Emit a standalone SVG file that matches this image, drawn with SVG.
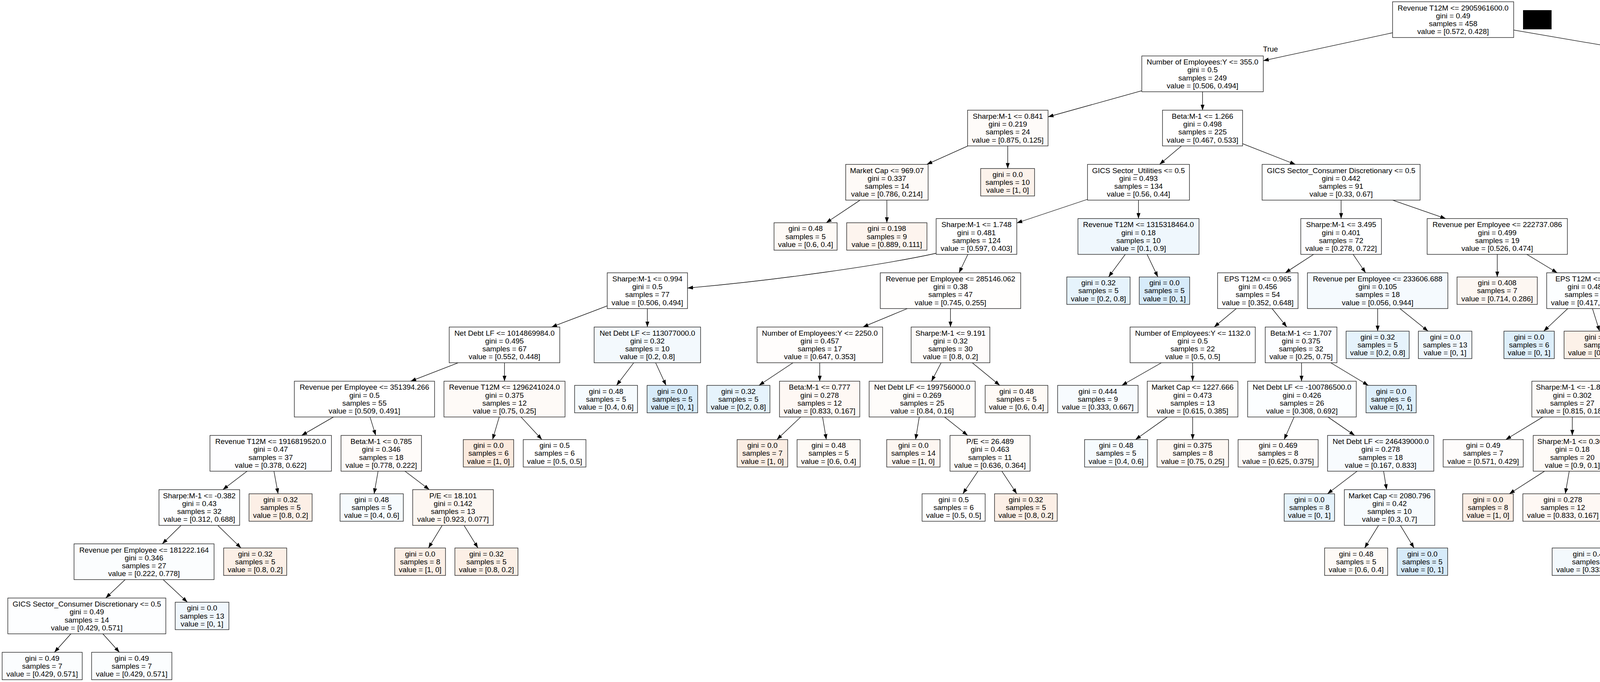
<svg xmlns="http://www.w3.org/2000/svg" width="6290" height="1745" viewBox="0 0 6290 1745">
<defs>
<marker id="ah" markerUnits="userSpaceOnUse" markerWidth="14" markerHeight="10" refX="14" refY="5" orient="auto"><path d="M0,0 L14,5 L0,10 z" fill="#000"/></marker>
<style>
.n rect{stroke:#222;stroke-width:1.4}
.n text,.lbl{font-family:"Liberation Sans",Arial,Helvetica,sans-serif;font-size:19px;fill:#000;text-anchor:middle}
.e path{fill:none;stroke:#000;stroke-width:1.3;marker-end:url(#ah)}
</style>
</defs>
<rect width="6290" height="1745" fill="#fff"/>
<g id="edges" class="e">
<path d="M3565 83.8 L3234 155.3"/>
<path d="M3875 76.8 L4426 171.3"/>
<path d="M2923 232.2 L2683 299"/>
<path d="M3078.5 234.7 L3078.5 281.9"/>
<path d="M4529 234.7 L4529 281.9"/>
<path d="M4632 211.5 L5060 305.2"/>
<path d="M2477.9 373.4 L2372.6 420.6"/>
<path d="M2579.75 373.4 L2579.75 431.25"/>
<path d="M3024.4 373.4 L2968.6 420.6"/>
<path d="M3181 367.7 L3316.2 420.6"/>
<path d="M2201.8 512.1 L2115 570"/>
<path d="M2270.4 512.1 L2270.4 570"/>
<path d="M2784 510 L2603 570.5"/>
<path d="M2914.5 512.1 L2914.5 559.3"/>
<path d="M3433.25 512.1 L3433.25 559.3"/>
<path d="M3565.1 512.1 L3701.1 559.3"/>
<path d="M2396.7 648 C2260 678 1990 717 1760 737"/>
<path d="M2477.8 650.8 L2455.2 698"/>
<path d="M2880.7 650.8 L2837.9 708.65"/>
<path d="M2936.4 650.8 L2964.2 708.65"/>
<path d="M3362.9 650.8 L3290.3 698"/>
<path d="M3464.1 650.8 L3495.9 698"/>
<path d="M3833 650.8 L3833 708.65"/>
<path d="M3908.6 650.8 L3986.6 698"/>
<path d="M4494.7 373.4 L4451.3 431.25"/>
<path d="M4563.4 373.4 L4598.9 420.6"/>
<path d="M5162.75 373.4 L5162.75 420.6"/>
<path d="M5265.5 360 L5462.5 421.9"/>
<path d="M4596.6 512.1 L4558.7 559.3"/>
<path d="M4672.3 512.1 L4721.6 570"/>
<path d="M4521.4 650.8 L4521.4 698"/>
<path d="M4617.2 650.8 L4715.5 698"/>
<path d="M5126.6 512.1 L5089.4 559.3"/>
<path d="M5207.1 512.1 L5263.2 570"/>
<path d="M5603.9 512.1 L5603.9 559.3"/>
<path d="M5734.8 512.1 L5870 559.3"/>
<path d="M5047.9 650.8 L5041.1 708.65"/>
<path d="M5109 650.8 L5179.5 708.65"/>
<path d="M5565.7 650.8 L5526.1 698"/>
<path d="M5660.8 650.8 L5732.7 708.65"/>
<path d="M6001 650.8 L6001 698"/>
<path d="M6068 650.8 L6152.6 708.65"/>
<path d="M1554.5 782.7 L1412.1 836.7"/>
<path d="M1657.25 789.5 L1657.25 836.7"/>
<path d="M2322.9 789.5 L2209.1 836.7"/>
<path d="M2433.25 789.5 L2433.25 836.7"/>
<path d="M3165 789.5 L3108.25 836.7"/>
<path d="M3256.5 789.5 L3294.2 836.7"/>
<path d="M3526.75 789.5 L3526.75 847.35"/>
<path d="M3583.7 789.5 L3655.8 847.35"/>
<path d="M4013.5 789.5 L3951.9 847.35"/>
<path d="M4076.7 789.5 L4094.9 847.35"/>
<path d="M4472.2 789.5 L4422.1 836.7"/>
<path d="M4547.8 789.5 L4575.7 836.7"/>
<path d="M4810.4 789.5 L4810.4 847.35"/>
<path d="M4879.4 789.5 L4966.1 847.35"/>
<path d="M5468 789.5 L5447.5 836.7"/>
<path d="M5532.5 789.5 L5589.15 847.35"/>
<path d="M5959.3 789.5 L5906.5 847.35"/>
<path d="M6020.5 789.5 L6045.1 847.35"/>
<path d="M1173.25 928.2 L1051.25 975.4"/>
<path d="M1291.5 928.2 L1291.5 975.4"/>
<path d="M1622.4 928.2 L1578.3 986.05"/>
<path d="M1678.4 928.2 L1705.05 986.05"/>
<path d="M2030 928.2 L1943 986.05"/>
<path d="M2098.5 928.2 L2098.5 975.4"/>
<path d="M2409.3 928.2 L2384.7 975.4"/>
<path d="M2489 928.2 L2559.5 986.05"/>
<path d="M2973.2 928.2 L2871.9 986.05"/>
<path d="M3053.1 928.2 L3053.1 975.4"/>
<path d="M3331.9 928.2 L3331.9 975.4"/>
<path d="M3406.8 928.2 L3502.9 986.05"/>
<path d="M4271 923.2 L4128.5 980"/>
<path d="M4373.5 928.2 L4373.5 975.4"/>
<path d="M4602.6 928.2 L4602.6 986.05"/>
<path d="M4705.5 922.8 L4839.3 975.4"/>
<path d="M5384.4 928.2 L5329.1 986.05"/>
<path d="M5470 928.2 L5513.5 975.4"/>
<path d="M853.8 1066.9 L772.2 1114.1"/>
<path d="M947.2 1066.9 L961.8 1114.1"/>
<path d="M1278 1066.9 L1260.9 1124.75"/>
<path d="M1333.8 1066.9 L1387.3 1124.75"/>
<path d="M2049.9 1066.9 L1988.8 1124.75"/>
<path d="M2105.8 1066.9 L2115.4 1124.75"/>
<path d="M2353.3 1066.9 L2343.9 1124.75"/>
<path d="M2418.1 1066.9 L2477.2 1114.1"/>
<path d="M2988.4 1066.9 L2906.8 1124.75"/>
<path d="M3053.25 1066.9 L3053.25 1124.75"/>
<path d="M3312.9 1066.9 L3287.4 1124.75"/>
<path d="M3399.5 1066.9 L3468 1114.1"/>
<path d="M3949.8 1066.9 L3854.7 1124.75"/>
<path d="M4025.1 1066.9 L4025.1 1114.1"/>
<path d="M4373.25 1066.9 L4373.25 1114.1"/>
<path d="M4476 1066.75 L4582.4 1114.1"/>
<path d="M4955.75 1066.9 L4955.75 1124.75"/>
<path d="M5024.4 1066.9 L5111.1 1124.75"/>
<path d="M5529 1066.9 L5501.5 1114.1"/>
<path d="M5601 1066.9 L5658.3 1124.75"/>
<path d="M632.7 1205.6 L570.5 1252.8"/>
<path d="M701.3 1205.6 L711.9 1263.45"/>
<path d="M967.9 1205.6 L957.7 1263.45"/>
<path d="M1036.6 1205.6 L1099.1 1252.8"/>
<path d="M2503.7 1205.6 L2464.85 1263.45"/>
<path d="M2564.8 1205.6 L2603 1263.45"/>
<path d="M3474.3 1205.6 L3398.2 1263.45"/>
<path d="M3542 1205.6 L3549.75 1252.8"/>
<path d="M3954 1205.6 L3863.9 1263.45"/>
<path d="M4017.25 1205.6 L4007.1 1263.45"/>
<path d="M4338.8 1205.6 L4303.5 1252.8"/>
<path d="M4427.2 1205.6 L4483.1 1252.8"/>
<path d="M4699.7 1205.6 L4717.9 1263.45"/>
<path d="M4755.5 1205.6 L4844.35 1263.45"/>
<path d="M5442.9 1205.6 L5402.7 1263.45"/>
<path d="M5506.3 1205.6 L5546.3 1263.45"/>
<path d="M463.6 1344.3 L415.4 1391.5"/>
<path d="M557.4 1344.3 L617.1 1402.15"/>
<path d="M1132 1344.3 L1096.8 1402.15"/>
<path d="M1188 1344.3 L1223.6 1402.15"/>
<path d="M3529.05 1344.3 L3493.4 1402.15"/>
<path d="M3585 1344.3 L3620 1402.15"/>
<path d="M4205.4 1344.3 L4124.7 1402.15"/>
<path d="M4274 1344.3 L4280.1 1402.15"/>
<path d="M4532.05 1344.3 L4526.7 1391.5"/>
<path d="M4633.1 1344.3 L4731.9 1391.5"/>
<path d="M320.4 1483 L270.6 1530.2"/>
<path d="M417.7 1483 L479.7 1540.85"/>
<path d="M4450.2 1483 L4376.6 1530.2"/>
<path d="M4530.65 1483 L4542.2 1540.85"/>
<path d="M4817.9 1483 L4807.8 1530.2"/>
<path d="M4893.8 1483 L4977.3 1540.85"/>
<path d="M181.5 1621.7 L139.3 1669"/>
<path d="M263.3 1621.7 L305.75 1669"/>
<path d="M4284.3 1621.7 L4262.6 1669"/>
<path d="M4366.2 1621.7 L4429.2 1669"/>
<path d="M4764.9 1621.7 L4730.65 1669"/>
<path d="M4830.9 1621.7 L4865 1669"/>
</g>
<text class="lbl" x="3252.5" y="132">True</text>
<text class="lbl" x="4405" y="156">False</text>
<rect x="3899" y="26" width="73" height="49" fill="#000"/>
<g id="n0" class="n"><rect x="3565" y="4.5" width="310" height="91.5" fill="#ffffff"/><text y="26.55"><tspan x="3720">Revenue T12M &lt;= 2905961600.0</tspan><tspan x="3720" dy="20.2">gini = 0.49</tspan><tspan x="3720" dy="20.2">samples = 458</tspan><tspan x="3720" dy="20.2">value = [0.572, 0.428]</tspan></text></g>
<g id="n1" class="n"><rect x="2923" y="143.2" width="311" height="91.5" fill="#ffffff"/><text y="165.25"><tspan x="3078.5">Number of Employees:Y &lt;= 355.0</tspan><tspan x="3078.5" dy="20.2">gini = 0.5</tspan><tspan x="3078.5" dy="20.2">samples = 249</tspan><tspan x="3078.5" dy="20.2">value = [0.506, 0.494]</tspan></text></g>
<g id="n2" class="n"><rect x="4426" y="143.2" width="206" height="91.5" fill="#ffffff"/><text y="165.25"><tspan x="4529">EPS T12M &lt;= 4.57</tspan><tspan x="4529" dy="20.2">gini = 0.455</tspan><tspan x="4529" dy="20.2">samples = 209</tspan><tspan x="4529" dy="20.2">value = [0.651, 0.349]</tspan></text></g>
<g id="n3" class="n"><rect x="2477" y="281.9" width="206" height="91.5" fill="#fefbf9"/><text y="303.95"><tspan x="2580">Sharpe:M-1 &lt;= 0.841</tspan><tspan x="2580" dy="20.2">gini = 0.219</tspan><tspan x="2580" dy="20.2">samples = 24</tspan><tspan x="2580" dy="20.2">value = [0.875, 0.125]</tspan></text></g>
<g id="n4" class="n"><rect x="2976" y="281.9" width="205" height="91.5" fill="#ffffff"/><text y="303.95"><tspan x="3078.5">Beta:M-1 &lt;= 1.266</tspan><tspan x="3078.5" dy="20.2">gini = 0.498</tspan><tspan x="3078.5" dy="20.2">samples = 225</tspan><tspan x="3078.5" dy="20.2">value = [0.467, 0.533]</tspan></text></g>
<g id="n16" class="n"><rect x="4426" y="281.9" width="206" height="91.5" fill="#ffffff"/><text y="303.95"><tspan x="4529">Sharpe:M-1 &lt;= -3.05</tspan><tspan x="4529" dy="20.2">gini = 0.479</tspan><tspan x="4529" dy="20.2">samples = 131</tspan><tspan x="4529" dy="20.2">value = [0.603, 0.397]</tspan></text></g>
<g id="n17" class="n"><rect x="5060" y="281.9" width="205.5" height="91.5" fill="#fffefe"/><text y="303.95"><tspan x="5162.75">Beta:M-1 &lt;= 0.594</tspan><tspan x="5162.75" dy="20.2">gini = 0.393</tspan><tspan x="5162.75" dy="20.2">samples = 78</tspan><tspan x="5162.75" dy="20.2">value = [0.731, 0.269]</tspan></text></g>
<g id="n5" class="n"><rect x="2165" y="420.6" width="211" height="91.5" fill="#fefaf7"/><text y="442.65"><tspan x="2270.5">Market Cap &lt;= 969.07</tspan><tspan x="2270.5" dy="20.2">gini = 0.337</tspan><tspan x="2270.5" dy="20.2">samples = 14</tspan><tspan x="2270.5" dy="20.2">value = [0.786, 0.214]</tspan></text></g>
<g id="n6" class="n"><rect x="2510.5" y="431.25" width="138" height="70.2" fill="#fcf2eb"/><text y="452.75"><tspan x="2579.5">gini = 0.0</tspan><tspan x="2579.5" dy="20.2">samples = 10</tspan><tspan x="2579.5" dy="20.2">value = [1, 0]</tspan></text></g>
<g id="n7" class="n"><rect x="2784" y="420.6" width="261" height="91.5" fill="#ffffff"/><text y="442.65"><tspan x="2914.5">GICS Sector_Utilities &lt;= 0.5</tspan><tspan x="2914.5" dy="20.2">gini = 0.493</tspan><tspan x="2914.5" dy="20.2">samples = 134</tspan><tspan x="2914.5" dy="20.2">value = [0.56, 0.44]</tspan></text></g>
<g id="n8" class="n"><rect x="3231" y="420.6" width="404.5" height="91.5" fill="#feffff"/><text y="442.65"><tspan x="3433.25">GICS Sector_Consumer Discretionary &lt;= 0.5</tspan><tspan x="3433.25" dy="20.2">gini = 0.442</tspan><tspan x="3433.25" dy="20.2">samples = 91</tspan><tspan x="3433.25" dy="20.2">value = [0.33, 0.67]</tspan></text></g>
<g id="n18" class="n"><rect x="4344.5" y="431.25" width="161" height="70.2" fill="#e6f3fc"/><text y="452.75"><tspan x="4425">gini = 0.32</tspan><tspan x="4425" dy="20.2">samples = 5</tspan><tspan x="4425" dy="20.2">value = [0.2, 0.8]</tspan></text></g>
<g id="n19" class="n"><rect x="4531" y="420.6" width="204.5" height="91.5" fill="#ffffff"/><text y="442.65"><tspan x="4633.25">P/E &lt;= 79.553</tspan><tspan x="4633.25" dy="20.2">gini = 0.472</tspan><tspan x="4633.25" dy="20.2">samples = 126</tspan><tspan x="4633.25" dy="20.2">value = [0.619, 0.381]</tspan></text></g>
<g id="n20" class="n"><rect x="4997" y="420.6" width="331.5" height="91.5" fill="#fffefe"/><text y="442.65"><tspan x="5162.75">Number of Employees:Y &lt;= 77993.5</tspan><tspan x="5162.75" dy="20.2">gini = 0.498</tspan><tspan x="5162.75" dy="20.2">samples = 15</tspan><tspan x="5162.75" dy="20.2">value = [0.533, 0.467]</tspan></text></g>
<g id="n21" class="n"><rect x="5462.5" y="420.6" width="282.5" height="91.5" fill="#fffefd"/><text y="442.65"><tspan x="5603.75">Net Debt LF &lt;= 6680000000.0</tspan><tspan x="5603.75" dy="20.2">gini = 0.346</tspan><tspan x="5603.75" dy="20.2">samples = 63</tspan><tspan x="5603.75" dy="20.2">value = [0.778, 0.222]</tspan></text></g>
<g id="n9" class="n"><rect x="1981.5" y="569.95" width="161.5" height="70.2" fill="#fefaf6"/><text y="591.45"><tspan x="2062.25">gini = 0.48</tspan><tspan x="2062.25" dy="20.2">samples = 5</tspan><tspan x="2062.25" dy="20.2">value = [0.6, 0.4]</tspan></text></g>
<g id="n10" class="n"><rect x="2167.5" y="569.95" width="205.5" height="70.2" fill="#fdf4ee"/><text y="591.45"><tspan x="2270.25">gini = 0.198</tspan><tspan x="2270.25" dy="20.2">samples = 9</tspan><tspan x="2270.25" dy="20.2">value = [0.889, 0.111]</tspan></text></g>
<g id="n11" class="n"><rect x="2396.5" y="559.3" width="206.5" height="91.5" fill="#ffffff"/><text y="581.35"><tspan x="2499.75">Sharpe:M-1 &lt;= 1.748</tspan><tspan x="2499.75" dy="20.2">gini = 0.481</tspan><tspan x="2499.75" dy="20.2">samples = 124</tspan><tspan x="2499.75" dy="20.2">value = [0.597, 0.403]</tspan></text></g>
<g id="n12" class="n"><rect x="2759.5" y="559.3" width="310" height="91.5" fill="#eff7fd"/><text y="581.35"><tspan x="2914.5">Revenue T12M &lt;= 1315318464.0</tspan><tspan x="2914.5" dy="20.2">gini = 0.18</tspan><tspan x="2914.5" dy="20.2">samples = 10</tspan><tspan x="2914.5" dy="20.2">value = [0.1, 0.9]</tspan></text></g>
<g id="n13" class="n"><rect x="3330" y="559.3" width="206.5" height="91.5" fill="#fefeff"/><text y="581.35"><tspan x="3433.25">Sharpe:M-1 &lt;= 3.495</tspan><tspan x="3433.25" dy="20.2">gini = 0.401</tspan><tspan x="3433.25" dy="20.2">samples = 72</tspan><tspan x="3433.25" dy="20.2">value = [0.278, 0.722]</tspan></text></g>
<g id="n14" class="n"><rect x="3653.5" y="559.3" width="359" height="91.5" fill="#fffffe"/><text y="581.35"><tspan x="3833">Revenue per Employee &lt;= 222737.086</tspan><tspan x="3833" dy="20.2">gini = 0.499</tspan><tspan x="3833" dy="20.2">samples = 19</tspan><tspan x="3833" dy="20.2">value = [0.526, 0.474]</tspan></text></g>
<g id="n15" class="n"><rect x="4419.5" y="559.3" width="205" height="91.5" fill="#ffffff"/><text y="581.35"><tspan x="4522">P/E &lt;= 35.978</tspan><tspan x="4522" dy="20.2">gini = 0.464</tspan><tspan x="4522" dy="20.2">samples = 120</tspan><tspan x="4522" dy="20.2">value = [0.633, 0.367]</tspan></text></g>
<g id="n22" class="n"><rect x="4648.5" y="569.95" width="206" height="70.2" fill="#f3f9fd"/><text y="591.45"><tspan x="4751.5">gini = 0.444</tspan><tspan x="4751.5" dy="20.2">samples = 6</tspan><tspan x="4751.5" dy="20.2">value = [0.333, 0.667]</tspan></text></g>
<g id="n23" class="n"><rect x="4898" y="559.3" width="310.5" height="91.5" fill="#f7fbfe"/><text y="581.35"><tspan x="5053.25">Revenue T12M &lt;= 9089720320.0</tspan><tspan x="5053.25" dy="20.2">gini = 0.42</tspan><tspan x="5053.25" dy="20.2">samples = 10</tspan><tspan x="5053.25" dy="20.2">value = [0.3, 0.7]</tspan></text></g>
<g id="n24" class="n"><rect x="5232.5" y="569.95" width="129.5" height="70.2" fill="#fae6d7"/><text y="591.45"><tspan x="5297.25">gini = 0.0</tspan><tspan x="5297.25" dy="20.2">samples = 5</tspan><tspan x="5297.25" dy="20.2">value = [1, 0]</tspan></text></g>
<g id="n25" class="n"><rect x="5419.5" y="559.3" width="369" height="91.5" fill="#fffdfc"/><text y="581.35"><tspan x="5604">Revenue per Employee &lt;= 1181116.625</tspan><tspan x="5604" dy="20.2">gini = 0.249</tspan><tspan x="5604" dy="20.2">samples = 48</tspan><tspan x="5604" dy="20.2">value = [0.854, 0.146]</tspan></text></g>
<g id="n26" class="n"><rect x="5830" y="559.3" width="342" height="91.5" fill="#fffefe"/><text y="581.35"><tspan x="6001">Number of Employees:Y &lt;= 126200.0</tspan><tspan x="6001" dy="20.2">gini = 0.498</tspan><tspan x="6001" dy="20.2">samples = 15</tspan><tspan x="6001" dy="20.2">value = [0.533, 0.467]</tspan></text></g>
<g id="n27" class="n"><rect x="1554.5" y="698" width="205.5" height="91.5" fill="#ffffff"/><text y="720.05"><tspan x="1657.25">Sharpe:M-1 &lt;= 0.994</tspan><tspan x="1657.25" dy="20.2">gini = 0.5</tspan><tspan x="1657.25" dy="20.2">samples = 77</tspan><tspan x="1657.25" dy="20.2">value = [0.506, 0.494]</tspan></text></g>
<g id="n28" class="n"><rect x="2253.5" y="698" width="359.5" height="91.5" fill="#fffefd"/><text y="720.05"><tspan x="2433.25">Revenue per Employee &lt;= 285146.062</tspan><tspan x="2433.25" dy="20.2">gini = 0.38</tspan><tspan x="2433.25" dy="20.2">samples = 47</tspan><tspan x="2433.25" dy="20.2">value = [0.745, 0.255]</tspan></text></g>
<g id="n29" class="n"><rect x="2731" y="708.65" width="162" height="70.2" fill="#e6f3fc"/><text y="730.15"><tspan x="2812">gini = 0.32</tspan><tspan x="2812" dy="20.2">samples = 5</tspan><tspan x="2812" dy="20.2">value = [0.2, 0.8]</tspan></text></g>
<g id="n30" class="n"><rect x="2916.5" y="708.65" width="129" height="70.2" fill="#d7ebfa"/><text y="730.15"><tspan x="2981">gini = 0.0</tspan><tspan x="2981" dy="20.2">samples = 5</tspan><tspan x="2981" dy="20.2">value = [0, 1]</tspan></text></g>
<g id="n31" class="n"><rect x="3117" y="698" width="206" height="91.5" fill="#fefeff"/><text y="720.05"><tspan x="3220">EPS T12M &lt;= 0.965</tspan><tspan x="3220" dy="20.2">gini = 0.456</tspan><tspan x="3220" dy="20.2">samples = 54</tspan><tspan x="3220" dy="20.2">value = [0.352, 0.648]</tspan></text></g>
<g id="n32" class="n"><rect x="3347" y="698" width="359.5" height="91.5" fill="#f5fafe"/><text y="720.05"><tspan x="3526.75">Revenue per Employee &lt;= 233606.688</tspan><tspan x="3526.75" dy="20.2">gini = 0.105</tspan><tspan x="3526.75" dy="20.2">samples = 18</tspan><tspan x="3526.75" dy="20.2">value = [0.056, 0.944]</tspan></text></g>
<g id="n33" class="n"><rect x="3730" y="708.65" width="205.5" height="70.2" fill="#fdf7f2"/><text y="730.15"><tspan x="3832.75">gini = 0.408</tspan><tspan x="3832.75" dy="20.2">samples = 7</tspan><tspan x="3832.75" dy="20.2">value = [0.714, 0.286]</tspan></text></g>
<g id="n34" class="n"><rect x="3959.5" y="698" width="205.5" height="91.5" fill="#fcfeff"/><text y="720.05"><tspan x="4062.25">EPS T12M &lt;= 2.34</tspan><tspan x="4062.25" dy="20.2">gini = 0.486</tspan><tspan x="4062.25" dy="20.2">samples = 12</tspan><tspan x="4062.25" dy="20.2">value = [0.417, 0.583]</tspan></text></g>
<g id="n35" class="n"><rect x="4377.5" y="698" width="286.5" height="91.5" fill="#ffffff"/><text y="720.05"><tspan x="4520.75">GICS Sector_Industrials &lt;= 0.5</tspan><tspan x="4520.75" dy="20.2">gini = 0.478</tspan><tspan x="4520.75" dy="20.2">samples = 106</tspan><tspan x="4520.75" dy="20.2">value = [0.604, 0.396]</tspan></text></g>
<g id="n36" class="n"><rect x="4689.5" y="698" width="242.5" height="91.5" fill="#fef9f5"/><text y="720.05"><tspan x="4810.75">Market Cap &lt;= 11013.503</tspan><tspan x="4810.75" dy="20.2">gini = 0.245</tspan><tspan x="4810.75" dy="20.2">samples = 14</tspan><tspan x="4810.75" dy="20.2">value = [0.857, 0.143]</tspan></text></g>
<g id="n37" class="n"><rect x="4956.5" y="708.65" width="161" height="70.2" fill="#e6f3fc"/><text y="730.15"><tspan x="5037">gini = 0.32</tspan><tspan x="5037" dy="20.2">samples = 5</tspan><tspan x="5037" dy="20.2">value = [0.2, 0.8]</tspan></text></g>
<g id="n38" class="n"><rect x="5141.5" y="708.65" width="161.5" height="70.2" fill="#f6fbfe"/><text y="730.15"><tspan x="5222.25">gini = 0.48</tspan><tspan x="5222.25" dy="20.2">samples = 5</tspan><tspan x="5222.25" dy="20.2">value = [0.4, 0.6]</tspan></text></g>
<g id="n39" class="n"><rect x="5327" y="698" width="321.5" height="91.5" fill="#fffdfb"/><text y="720.05"><tspan x="5487.75">Revenue T12M &lt;= 13158757376.0</tspan><tspan x="5487.75" dy="20.2">gini = 0.21</tspan><tspan x="5487.75" dy="20.2">samples = 42</tspan><tspan x="5487.75" dy="20.2">value = [0.881, 0.119]</tspan></text></g>
<g id="n40" class="n"><rect x="5673.5" y="708.65" width="205.5" height="70.2" fill="#fdf8f3"/><text y="730.15"><tspan x="5776.25">gini = 0.444</tspan><tspan x="5776.25" dy="20.2">samples = 6</tspan><tspan x="5776.25" dy="20.2">value = [0.667, 0.333]</tspan></text></g>
<g id="n41" class="n"><rect x="5899.5" y="698" width="203" height="91.5" fill="#fbfdfe"/><text y="720.05"><tspan x="6001">EPS T12M &lt;= 8.135</tspan><tspan x="6001" dy="20.2">gini = 0.48</tspan><tspan x="6001" dy="20.2">samples = 10</tspan><tspan x="6001" dy="20.2">value = [0.4, 0.6]</tspan></text></g>
<g id="n42" class="n"><rect x="6123.5" y="708.65" width="161" height="70.2" fill="#fcefe6"/><text y="730.15"><tspan x="6204">gini = 0.32</tspan><tspan x="6204" dy="20.2">samples = 5</tspan><tspan x="6204" dy="20.2">value = [0.8, 0.2]</tspan></text></g>
<g id="n43" class="n"><rect x="1150" y="836.7" width="283" height="91.5" fill="#ffffff"/><text y="858.75"><tspan x="1291.5">Net Debt LF &lt;= 1014869984.0</tspan><tspan x="1291.5" dy="20.2">gini = 0.495</tspan><tspan x="1291.5" dy="20.2">samples = 67</tspan><tspan x="1291.5" dy="20.2">value = [0.552, 0.448]</tspan></text></g>
<g id="n44" class="n"><rect x="1521" y="836.7" width="272.5" height="91.5" fill="#f3f9fd"/><text y="858.75"><tspan x="1657.25">Net Debt LF &lt;= 113077000.0</tspan><tspan x="1657.25" dy="20.2">gini = 0.32</tspan><tspan x="1657.25" dy="20.2">samples = 10</tspan><tspan x="1657.25" dy="20.2">value = [0.2, 0.8]</tspan></text></g>
<g id="n45" class="n"><rect x="1938" y="836.7" width="321.5" height="91.5" fill="#fffdfc"/><text y="858.75"><tspan x="2098.75">Number of Employees:Y &lt;= 2250.0</tspan><tspan x="2098.75" dy="20.2">gini = 0.457</tspan><tspan x="2098.75" dy="20.2">samples = 17</tspan><tspan x="2098.75" dy="20.2">value = [0.647, 0.353]</tspan></text></g>
<g id="n46" class="n"><rect x="2332.5" y="836.7" width="201.5" height="91.5" fill="#fefcfb"/><text y="858.75"><tspan x="2433.25">Sharpe:M-1 &lt;= 9.191</tspan><tspan x="2433.25" dy="20.2">gini = 0.32</tspan><tspan x="2433.25" dy="20.2">samples = 30</tspan><tspan x="2433.25" dy="20.2">value = [0.8, 0.2]</tspan></text></g>
<g id="n47" class="n"><rect x="2893" y="836.7" width="320.5" height="91.5" fill="#ffffff"/><text y="858.75"><tspan x="3053.25">Number of Employees:Y &lt;= 1132.0</tspan><tspan x="3053.25" dy="20.2">gini = 0.5</tspan><tspan x="3053.25" dy="20.2">samples = 22</tspan><tspan x="3053.25" dy="20.2">value = [0.5, 0.5]</tspan></text></g>
<g id="n48" class="n"><rect x="3239" y="836.7" width="183.5" height="91.5" fill="#fcfdff"/><text y="858.75"><tspan x="3330.75">Beta:M-1 &lt;= 1.707</tspan><tspan x="3330.75" dy="20.2">gini = 0.375</tspan><tspan x="3330.75" dy="20.2">samples = 32</tspan><tspan x="3330.75" dy="20.2">value = [0.25, 0.75]</tspan></text></g>
<g id="n49" class="n"><rect x="3446" y="847.35" width="161.5" height="70.2" fill="#e6f3fc"/><text y="868.85"><tspan x="3526.75">gini = 0.32</tspan><tspan x="3526.75" dy="20.2">samples = 5</tspan><tspan x="3526.75" dy="20.2">value = [0.2, 0.8]</tspan></text></g>
<g id="n50" class="n"><rect x="3631" y="847.35" width="137" height="70.2" fill="#f0f7fd"/><text y="868.85"><tspan x="3699.5">gini = 0.0</tspan><tspan x="3699.5" dy="20.2">samples = 13</tspan><tspan x="3699.5" dy="20.2">value = [0, 1]</tspan></text></g>
<g id="n51" class="n"><rect x="3850" y="847.35" width="129" height="70.2" fill="#deeffb"/><text y="868.85"><tspan x="3914.5">gini = 0.0</tspan><tspan x="3914.5" dy="20.2">samples = 6</tspan><tspan x="3914.5" dy="20.2">value = [0, 1]</tspan></text></g>
<g id="n52" class="n"><rect x="4004" y="847.35" width="204" height="70.2" fill="#fcf1e8"/><text y="868.85"><tspan x="4106">gini = 0.278</tspan><tspan x="4106" dy="20.2">samples = 6</tspan><tspan x="4106" dy="20.2">value = [0.833, 0.167]</tspan></text></g>
<g id="n53" class="n"><rect x="4271" y="836.7" width="205" height="91.5" fill="#fffffe"/><text y="858.75"><tspan x="4373.5">Beta:M-1 &lt;= 0.816</tspan><tspan x="4373.5" dy="20.2">gini = 0.457</tspan><tspan x="4373.5" dy="20.2">samples = 85</tspan><tspan x="4373.5" dy="20.2">value = [0.647, 0.353]</tspan></text></g>
<g id="n54" class="n"><rect x="4500" y="836.7" width="205.5" height="91.5" fill="#fefeff"/><text y="858.75"><tspan x="4602.75">Sharpe:M-1 &lt;= 0.214</tspan><tspan x="4602.75" dy="20.2">gini = 0.49</tspan><tspan x="4602.75" dy="20.2">samples = 21</tspan><tspan x="4602.75" dy="20.2">value = [0.429, 0.571]</tspan></text></g>
<g id="n55" class="n"><rect x="4729.5" y="847.35" width="161" height="70.2" fill="#fcefe6"/><text y="868.85"><tspan x="4810">gini = 0.32</tspan><tspan x="4810" dy="20.2">samples = 5</tspan><tspan x="4810" dy="20.2">value = [0.8, 0.2]</tspan></text></g>
<g id="n56" class="n"><rect x="4916" y="847.35" width="205.5" height="70.2" fill="#fdf4ee"/><text y="868.85"><tspan x="5018.75">gini = 0.198</tspan><tspan x="5018.75" dy="20.2">samples = 9</tspan><tspan x="5018.75" dy="20.2">value = [0.889, 0.111]</tspan></text></g>
<g id="n57" class="n"><rect x="5325" y="836.7" width="205.5" height="91.5" fill="#fefcfb"/><text y="858.75"><tspan x="5427.75">P/E &lt;= 10.418</tspan><tspan x="5427.75" dy="20.2">gini = 0.271</tspan><tspan x="5427.75" dy="20.2">samples = 31</tspan><tspan x="5427.75" dy="20.2">value = [0.839, 0.161]</tspan></text></g>
<g id="n58" class="n"><rect x="5554.5" y="847.35" width="138" height="70.2" fill="#fdf4ed"/><text y="868.85"><tspan x="5623.5">gini = 0.0</tspan><tspan x="5623.5" dy="20.2">samples = 11</tspan><tspan x="5623.5" dy="20.2">value = [1, 0]</tspan></text></g>
<g id="n59" class="n"><rect x="5794" y="847.35" width="161" height="70.2" fill="#fefaf6"/><text y="868.85"><tspan x="5874.5">gini = 0.48</tspan><tspan x="5874.5" dy="20.2">samples = 5</tspan><tspan x="5874.5" dy="20.2">value = [0.6, 0.4]</tspan></text></g>
<g id="n60" class="n"><rect x="5979.5" y="847.35" width="161" height="70.2" fill="#e6f3fc"/><text y="868.85"><tspan x="6060">gini = 0.32</tspan><tspan x="6060" dy="20.2">samples = 5</tspan><tspan x="6060" dy="20.2">value = [0.2, 0.8]</tspan></text></g>
<g id="n61" class="n"><rect x="753.5" y="975.4" width="359" height="91.5" fill="#ffffff"/><text y="997.45"><tspan x="933">Revenue per Employee &lt;= 351394.266</tspan><tspan x="933" dy="20.2">gini = 0.5</tspan><tspan x="933" dy="20.2">samples = 55</tspan><tspan x="933" dy="20.2">value = [0.509, 0.491]</tspan></text></g>
<g id="n62" class="n"><rect x="1136.5" y="975.4" width="310" height="91.5" fill="#fefaf7"/><text y="997.45"><tspan x="1291.5">Revenue T12M &lt;= 1296241024.0</tspan><tspan x="1291.5" dy="20.2">gini = 0.375</tspan><tspan x="1291.5" dy="20.2">samples = 12</tspan><tspan x="1291.5" dy="20.2">value = [0.75, 0.25]</tspan></text></g>
<g id="n63" class="n"><rect x="1471" y="986.05" width="161" height="70.2" fill="#f6fbfe"/><text y="1007.55"><tspan x="1551.5">gini = 0.48</tspan><tspan x="1551.5" dy="20.2">samples = 5</tspan><tspan x="1551.5" dy="20.2">value = [0.4, 0.6]</tspan></text></g>
<g id="n64" class="n"><rect x="1656.5" y="986.05" width="129.5" height="70.2" fill="#d7ebfa"/><text y="1007.55"><tspan x="1721.25">gini = 0.0</tspan><tspan x="1721.25" dy="20.2">samples = 5</tspan><tspan x="1721.25" dy="20.2">value = [0, 1]</tspan></text></g>
<g id="n65" class="n"><rect x="1809.5" y="986.05" width="161.5" height="70.2" fill="#e6f3fc"/><text y="1007.55"><tspan x="1890.25">gini = 0.32</tspan><tspan x="1890.25" dy="20.2">samples = 5</tspan><tspan x="1890.25" dy="20.2">value = [0.2, 0.8]</tspan></text></g>
<g id="n66" class="n"><rect x="1995.5" y="975.4" width="205.5" height="91.5" fill="#fef8f4"/><text y="997.45"><tspan x="2098.25">Beta:M-1 &lt;= 0.777</tspan><tspan x="2098.25" dy="20.2">gini = 0.278</tspan><tspan x="2098.25" dy="20.2">samples = 12</tspan><tspan x="2098.25" dy="20.2">value = [0.833, 0.167]</tspan></text></g>
<g id="n67" class="n"><rect x="2225" y="975.4" width="271.5" height="91.5" fill="#fefcfa"/><text y="997.45"><tspan x="2360.75">Net Debt LF &lt;= 199756000.0</tspan><tspan x="2360.75" dy="20.2">gini = 0.269</tspan><tspan x="2360.75" dy="20.2">samples = 25</tspan><tspan x="2360.75" dy="20.2">value = [0.84, 0.16]</tspan></text></g>
<g id="n68" class="n"><rect x="2522" y="986.05" width="160.5" height="70.2" fill="#fefaf6"/><text y="1007.55"><tspan x="2602.25">gini = 0.48</tspan><tspan x="2602.25" dy="20.2">samples = 5</tspan><tspan x="2602.25" dy="20.2">value = [0.6, 0.4]</tspan></text></g>
<g id="n69" class="n"><rect x="2707.5" y="986.05" width="206" height="70.2" fill="#f7fbfe"/><text y="1007.55"><tspan x="2810.5">gini = 0.444</tspan><tspan x="2810.5" dy="20.2">samples = 9</tspan><tspan x="2810.5" dy="20.2">value = [0.333, 0.667]</tspan></text></g>
<g id="n70" class="n"><rect x="2937" y="975.4" width="232" height="91.5" fill="#fffdfb"/><text y="997.45"><tspan x="3053">Market Cap &lt;= 1227.666</tspan><tspan x="3053" dy="20.2">gini = 0.473</tspan><tspan x="3053" dy="20.2">samples = 13</tspan><tspan x="3053" dy="20.2">value = [0.615, 0.385]</tspan></text></g>
<g id="n71" class="n"><rect x="3194" y="975.4" width="278" height="91.5" fill="#fcfeff"/><text y="997.45"><tspan x="3333">Net Debt LF &lt;= -100786500.0</tspan><tspan x="3333" dy="20.2">gini = 0.426</tspan><tspan x="3333" dy="20.2">samples = 26</tspan><tspan x="3333" dy="20.2">value = [0.308, 0.692]</tspan></text></g>
<g id="n72" class="n"><rect x="3497" y="986.05" width="128.5" height="70.2" fill="#deeffb"/><text y="1007.55"><tspan x="3561.25">gini = 0.0</tspan><tspan x="3561.25" dy="20.2">samples = 6</tspan><tspan x="3561.25" dy="20.2">value = [0, 1]</tspan></text></g>
<g id="n73" class="n"><rect x="3921.5" y="975.4" width="207" height="91.5" fill="#fefcfa"/><text y="997.45"><tspan x="4025">Sharpe:M-1 &lt;= -1.867</tspan><tspan x="4025" dy="20.2">gini = 0.302</tspan><tspan x="4025" dy="20.2">samples = 27</tspan><tspan x="4025" dy="20.2">value = [0.815, 0.185]</tspan></text></g>
<g id="n74" class="n"><rect x="4271" y="975.4" width="205" height="91.5" fill="#ffffff"/><text y="997.45"><tspan x="4373.5">EPS T12M &lt;= 3.385</tspan><tspan x="4373.5" dy="20.2">gini = 0.49</tspan><tspan x="4373.5" dy="20.2">samples = 58</tspan><tspan x="4373.5" dy="20.2">value = [0.569, 0.431]</tspan></text></g>
<g id="n75" class="n"><rect x="4500" y="986.05" width="205" height="70.2" fill="#eaf5fc"/><text y="1007.55"><tspan x="4602.5">gini = 0.245</tspan><tspan x="4602.5" dy="20.2">samples = 7</tspan><tspan x="4602.5" dy="20.2">value = [0.143, 0.857]</tspan></text></g>
<g id="n76" class="n"><rect x="4776.5" y="975.4" width="358.5" height="91.5" fill="#fffefd"/><text y="997.45"><tspan x="4955.75">Revenue per Employee &lt;= 237926.391</tspan><tspan x="4955.75" dy="20.2">gini = 0.49</tspan><tspan x="4955.75" dy="20.2">samples = 14</tspan><tspan x="4955.75" dy="20.2">value = [0.571, 0.429]</tspan></text></g>
<g id="n77" class="n"><rect x="5216" y="986.05" width="160.5" height="70.2" fill="#fefaf6"/><text y="1007.55"><tspan x="5296.25">gini = 0.48</tspan><tspan x="5296.25" dy="20.2">samples = 5</tspan><tspan x="5296.25" dy="20.2">value = [0.6, 0.4]</tspan></text></g>
<g id="n78" class="n"><rect x="5400.5" y="975.4" width="310.5" height="91.5" fill="#fefbf9"/><text y="997.45"><tspan x="5555.75">Revenue T12M &lt;= 5825765888.0</tspan><tspan x="5555.75" dy="20.2">gini = 0.204</tspan><tspan x="5555.75" dy="20.2">samples = 26</tspan><tspan x="5555.75" dy="20.2">value = [0.885, 0.115]</tspan></text></g>
<g id="n79" class="n"><rect x="537.5" y="1114.1" width="311" height="91.5" fill="#fefeff"/><text y="1136.15"><tspan x="693">Revenue T12M &lt;= 1916819520.0</tspan><tspan x="693" dy="20.2">gini = 0.47</tspan><tspan x="693" dy="20.2">samples = 37</tspan><tspan x="693" dy="20.2">value = [0.378, 0.622]</tspan></text></g>
<g id="n80" class="n"><rect x="873" y="1114.1" width="206" height="91.5" fill="#fefbf9"/><text y="1136.15"><tspan x="976">Beta:M-1 &lt;= 0.785</tspan><tspan x="976" dy="20.2">gini = 0.346</tspan><tspan x="976" dy="20.2">samples = 18</tspan><tspan x="976" dy="20.2">value = [0.778, 0.222]</tspan></text></g>
<g id="n81" class="n"><rect x="1186" y="1124.75" width="129" height="70.2" fill="#fbeade"/><text y="1146.25"><tspan x="1250.5">gini = 0.0</tspan><tspan x="1250.5" dy="20.2">samples = 6</tspan><tspan x="1250.5" dy="20.2">value = [1, 0]</tspan></text></g>
<g id="n82" class="n"><rect x="1339.5" y="1124.75" width="160.5" height="70.2" fill="#ffffff"/><text y="1146.25"><tspan x="1419.75">gini = 0.5</tspan><tspan x="1419.75" dy="20.2">samples = 6</tspan><tspan x="1419.75" dy="20.2">value = [0.5, 0.5]</tspan></text></g>
<g id="n83" class="n"><rect x="1887" y="1124.75" width="129.5" height="70.2" fill="#fbede3"/><text y="1146.25"><tspan x="1951.75">gini = 0.0</tspan><tspan x="1951.75" dy="20.2">samples = 7</tspan><tspan x="1951.75" dy="20.2">value = [1, 0]</tspan></text></g>
<g id="n84" class="n"><rect x="2040.5" y="1124.75" width="161.5" height="70.2" fill="#fefaf6"/><text y="1146.25"><tspan x="2121.25">gini = 0.48</tspan><tspan x="2121.25" dy="20.2">samples = 5</tspan><tspan x="2121.25" dy="20.2">value = [0.6, 0.4]</tspan></text></g>
<g id="n85" class="n"><rect x="2270" y="1124.75" width="136.5" height="70.2" fill="#fdf6f1"/><text y="1146.25"><tspan x="2338.25">gini = 0.0</tspan><tspan x="2338.25" dy="20.2">samples = 14</tspan><tspan x="2338.25" dy="20.2">value = [1, 0]</tspan></text></g>
<g id="n86" class="n"><rect x="2432" y="1114.1" width="205" height="91.5" fill="#fefcfa"/><text y="1136.15"><tspan x="2534.5">P/E &lt;= 26.489</tspan><tspan x="2534.5" dy="20.2">gini = 0.463</tspan><tspan x="2534.5" dy="20.2">samples = 11</tspan><tspan x="2534.5" dy="20.2">value = [0.636, 0.364]</tspan></text></g>
<g id="n87" class="n"><rect x="2776.5" y="1124.75" width="161.5" height="70.2" fill="#f6fbfe"/><text y="1146.25"><tspan x="2857.25">gini = 0.48</tspan><tspan x="2857.25" dy="20.2">samples = 5</tspan><tspan x="2857.25" dy="20.2">value = [0.4, 0.6]</tspan></text></g>
<g id="n88" class="n"><rect x="2962" y="1124.75" width="183" height="70.2" fill="#fdf7f2"/><text y="1146.25"><tspan x="3053.5">gini = 0.375</tspan><tspan x="3053.5" dy="20.2">samples = 8</tspan><tspan x="3053.5" dy="20.2">value = [0.75, 0.25]</tspan></text></g>
<g id="n89" class="n"><rect x="3169.5" y="1124.75" width="205" height="70.2" fill="#fefbf9"/><text y="1146.25"><tspan x="3272">gini = 0.469</tspan><tspan x="3272" dy="20.2">samples = 8</tspan><tspan x="3272" dy="20.2">value = [0.625, 0.375]</tspan></text></g>
<g id="n90" class="n"><rect x="3398.5" y="1114.1" width="272" height="91.5" fill="#f8fbfe"/><text y="1136.15"><tspan x="3534.5">Net Debt LF &lt;= 246439000.0</tspan><tspan x="3534.5" dy="20.2">gini = 0.278</tspan><tspan x="3534.5" dy="20.2">samples = 18</tspan><tspan x="3534.5" dy="20.2">value = [0.167, 0.833]</tspan></text></g>
<g id="n91" class="n"><rect x="3694.5" y="1124.75" width="205" height="70.2" fill="#fefcfb"/><text y="1146.25"><tspan x="3797">gini = 0.49</tspan><tspan x="3797" dy="20.2">samples = 7</tspan><tspan x="3797" dy="20.2">value = [0.571, 0.429]</tspan></text></g>
<g id="n92" class="n"><rect x="3925" y="1114.1" width="200.5" height="91.5" fill="#fefaf7"/><text y="1136.15"><tspan x="4025.25">Sharpe:M-1 &lt;= 0.305</tspan><tspan x="4025.25" dy="20.2">gini = 0.18</tspan><tspan x="4025.25" dy="20.2">samples = 20</tspan><tspan x="4025.25" dy="20.2">value = [0.9, 0.1]</tspan></text></g>
<g id="n93" class="n"><rect x="4269.5" y="1114.1" width="207" height="91.5" fill="#fffefe"/><text y="1136.15"><tspan x="4373">Sharpe:M-1 &lt;= -1.557</tspan><tspan x="4373" dy="20.2">gini = 0.462</tspan><tspan x="4373" dy="20.2">samples = 47</tspan><tspan x="4373" dy="20.2">value = [0.638, 0.362]</tspan></text></g>
<g id="n94" class="n"><rect x="4519.5" y="1114.1" width="331.5" height="91.5" fill="#f7fbfe"/><text y="1136.15"><tspan x="4685.25">Number of Employees:Y &lt;= 23850.0</tspan><tspan x="4685.25" dy="20.2">gini = 0.397</tspan><tspan x="4685.25" dy="20.2">samples = 11</tspan><tspan x="4685.25" dy="20.2">value = [0.273, 0.727]</tspan></text></g>
<g id="n95" class="n"><rect x="4875" y="1124.75" width="161.5" height="70.2" fill="#f6fbfe"/><text y="1146.25"><tspan x="4955.75">gini = 0.48</tspan><tspan x="4955.75" dy="20.2">samples = 5</tspan><tspan x="4955.75" dy="20.2">value = [0.4, 0.6]</tspan></text></g>
<g id="n96" class="n"><rect x="5060.5" y="1124.75" width="206.5" height="70.2" fill="#fefaf7"/><text y="1146.25"><tspan x="5163.75">gini = 0.444</tspan><tspan x="5163.75" dy="20.2">samples = 9</tspan><tspan x="5163.75" dy="20.2">value = [0.667, 0.333]</tspan></text></g>
<g id="n97" class="n"><rect x="5372" y="1114.1" width="205.5" height="91.5" fill="#fef9f5"/><text y="1136.15"><tspan x="5474.75">EPS T12M &lt;= 6.72</tspan><tspan x="5474.75" dy="20.2">gini = 0.105</tspan><tspan x="5474.75" dy="20.2">samples = 18</tspan><tspan x="5474.75" dy="20.2">value = [0.944, 0.056]</tspan></text></g>
<g id="n98" class="n"><rect x="5601.5" y="1124.75" width="183" height="70.2" fill="#fdf7f2"/><text y="1146.25"><tspan x="5693">gini = 0.375</tspan><tspan x="5693" dy="20.2">samples = 8</tspan><tspan x="5693" dy="20.2">value = [0.75, 0.25]</tspan></text></g>
<g id="n99" class="n"><rect x="407" y="1252.8" width="206.5" height="91.5" fill="#fdfeff"/><text y="1274.85"><tspan x="510.25">Sharpe:M-1 &lt;= -0.382</tspan><tspan x="510.25" dy="20.2">gini = 0.43</tspan><tspan x="510.25" dy="20.2">samples = 32</tspan><tspan x="510.25" dy="20.2">value = [0.312, 0.688]</tspan></text></g>
<g id="n100" class="n"><rect x="637.5" y="1263.45" width="161.5" height="70.2" fill="#fcefe6"/><text y="1284.95"><tspan x="718.25">gini = 0.32</tspan><tspan x="718.25" dy="20.2">samples = 5</tspan><tspan x="718.25" dy="20.2">value = [0.8, 0.2]</tspan></text></g>
<g id="n101" class="n"><rect x="870.5" y="1263.45" width="162" height="70.2" fill="#f6fbfe"/><text y="1284.95"><tspan x="951.5">gini = 0.48</tspan><tspan x="951.5" dy="20.2">samples = 5</tspan><tspan x="951.5" dy="20.2">value = [0.4, 0.6]</tspan></text></g>
<g id="n102" class="n"><rect x="1056.5" y="1252.8" width="206.5" height="91.5" fill="#fdf7f2"/><text y="1274.85"><tspan x="1159.75">P/E &lt;= 18.101</tspan><tspan x="1159.75" dy="20.2">gini = 0.142</tspan><tspan x="1159.75" dy="20.2">samples = 13</tspan><tspan x="1159.75" dy="20.2">value = [0.923, 0.077]</tspan></text></g>
<g id="n103" class="n"><rect x="2360.5" y="1263.45" width="161.5" height="70.2" fill="#ffffff"/><text y="1284.95"><tspan x="2441.25">gini = 0.5</tspan><tspan x="2441.25" dy="20.2">samples = 6</tspan><tspan x="2441.25" dy="20.2">value = [0.5, 0.5]</tspan></text></g>
<g id="n104" class="n"><rect x="2546" y="1263.45" width="160.5" height="70.2" fill="#fcefe6"/><text y="1284.95"><tspan x="2626.25">gini = 0.32</tspan><tspan x="2626.25" dy="20.2">samples = 5</tspan><tspan x="2626.25" dy="20.2">value = [0.8, 0.2]</tspan></text></g>
<g id="n105" class="n"><rect x="3287.5" y="1263.45" width="129" height="70.2" fill="#e6f3fc"/><text y="1284.95"><tspan x="3352">gini = 0.0</tspan><tspan x="3352" dy="20.2">samples = 8</tspan><tspan x="3352" dy="20.2">value = [0, 1]</tspan></text></g>
<g id="n106" class="n"><rect x="3441.5" y="1252.8" width="231.5" height="91.5" fill="#f7fbfe"/><text y="1274.85"><tspan x="3557.25">Market Cap &lt;= 2080.796</tspan><tspan x="3557.25" dy="20.2">gini = 0.42</tspan><tspan x="3557.25" dy="20.2">samples = 10</tspan><tspan x="3557.25" dy="20.2">value = [0.3, 0.7]</tspan></text></g>
<g id="n107" class="n"><rect x="3744.5" y="1263.45" width="129.5" height="70.2" fill="#fcefe6"/><text y="1284.95"><tspan x="3809.25">gini = 0.0</tspan><tspan x="3809.25" dy="20.2">samples = 8</tspan><tspan x="3809.25" dy="20.2">value = [1, 0]</tspan></text></g>
<g id="n108" class="n"><rect x="3898.5" y="1263.45" width="205" height="70.2" fill="#fef8f4"/><text y="1284.95"><tspan x="4001">gini = 0.278</tspan><tspan x="4001" dy="20.2">samples = 12</tspan><tspan x="4001" dy="20.2">value = [0.833, 0.167]</tspan></text></g>
<g id="n109" class="n"><rect x="4127.5" y="1252.8" width="283.5" height="91.5" fill="#fdfeff"/><text y="1274.85"><tspan x="4269.25">Net Debt LF &lt;= 1820149952.0</tspan><tspan x="4269.25" dy="20.2">gini = 0.496</tspan><tspan x="4269.25" dy="20.2">samples = 11</tspan><tspan x="4269.25" dy="20.2">value = [0.455, 0.545]</tspan></text></g>
<g id="n110" class="n"><rect x="4434.5" y="1252.8" width="205.5" height="91.5" fill="#fffefd"/><text y="1274.85"><tspan x="4537.25">P/E &lt;= 21.299</tspan><tspan x="4537.25" dy="20.2">gini = 0.424</tspan><tspan x="4537.25" dy="20.2">samples = 36</tspan><tspan x="4537.25" dy="20.2">value = [0.694, 0.306]</tspan></text></g>
<g id="n111" class="n"><rect x="4664.5" y="1263.45" width="129" height="70.2" fill="#d7ebfa"/><text y="1284.95"><tspan x="4729">gini = 0.0</tspan><tspan x="4729" dy="20.2">samples = 5</tspan><tspan x="4729" dy="20.2">value = [0, 1]</tspan></text></g>
<g id="n112" class="n"><rect x="4817.5" y="1263.45" width="161.5" height="70.2" fill="#ffffff"/><text y="1284.95"><tspan x="4898.25">gini = 0.5</tspan><tspan x="4898.25" dy="20.2">samples = 6</tspan><tspan x="4898.25" dy="20.2">value = [0.5, 0.5]</tspan></text></g>
<g id="n113" class="n"><rect x="5275.5" y="1263.45" width="205.5" height="70.2" fill="#fdf4ee"/><text y="1284.95"><tspan x="5378.25">gini = 0.198</tspan><tspan x="5378.25" dy="20.2">samples = 9</tspan><tspan x="5378.25" dy="20.2">value = [0.889, 0.111]</tspan></text></g>
<g id="n114" class="n"><rect x="5506" y="1263.45" width="129" height="70.2" fill="#fcf1e9"/><text y="1284.95"><tspan x="5570.5">gini = 0.0</tspan><tspan x="5570.5" dy="20.2">samples = 9</tspan><tspan x="5570.5" dy="20.2">value = [1, 0]</tspan></text></g>
<g id="n115" class="n"><rect x="189.5" y="1391.5" width="358.5" height="91.5" fill="#fbfdfe"/><text y="1413.55"><tspan x="368.75">Revenue per Employee &lt;= 181222.164</tspan><tspan x="368.75" dy="20.2">gini = 0.346</tspan><tspan x="368.75" dy="20.2">samples = 27</tspan><tspan x="368.75" dy="20.2">value = [0.222, 0.778]</tspan></text></g>
<g id="n116" class="n"><rect x="572.5" y="1402.15" width="161.5" height="70.2" fill="#fcefe6"/><text y="1423.65"><tspan x="653.25">gini = 0.32</tspan><tspan x="653.25" dy="20.2">samples = 5</tspan><tspan x="653.25" dy="20.2">value = [0.8, 0.2]</tspan></text></g>
<g id="n117" class="n"><rect x="1010.5" y="1402.15" width="130" height="70.2" fill="#fcefe6"/><text y="1423.65"><tspan x="1075.5">gini = 0.0</tspan><tspan x="1075.5" dy="20.2">samples = 8</tspan><tspan x="1075.5" dy="20.2">value = [1, 0]</tspan></text></g>
<g id="n118" class="n"><rect x="1164.5" y="1402.15" width="161.5" height="70.2" fill="#fcefe6"/><text y="1423.65"><tspan x="1245.25">gini = 0.32</tspan><tspan x="1245.25" dy="20.2">samples = 5</tspan><tspan x="1245.25" dy="20.2">value = [0.8, 0.2]</tspan></text></g>
<g id="n119" class="n"><rect x="3391" y="1402.15" width="161.5" height="70.2" fill="#fefaf6"/><text y="1423.65"><tspan x="3471.75">gini = 0.48</tspan><tspan x="3471.75" dy="20.2">samples = 5</tspan><tspan x="3471.75" dy="20.2">value = [0.6, 0.4]</tspan></text></g>
<g id="n120" class="n"><rect x="3576.5" y="1402.15" width="129.5" height="70.2" fill="#d7ebfa"/><text y="1423.65"><tspan x="3641.25">gini = 0.0</tspan><tspan x="3641.25" dy="20.2">samples = 5</tspan><tspan x="3641.25" dy="20.2">value = [0, 1]</tspan></text></g>
<g id="n121" class="n"><rect x="3973.5" y="1402.15" width="204.5" height="70.2" fill="#f3f9fd"/><text y="1423.65"><tspan x="4075.75">gini = 0.444</tspan><tspan x="4075.75" dy="20.2">samples = 6</tspan><tspan x="4075.75" dy="20.2">value = [0.333, 0.667]</tspan></text></g>
<g id="n122" class="n"><rect x="4203.5" y="1402.15" width="160.5" height="70.2" fill="#fefaf6"/><text y="1423.65"><tspan x="4283.75">gini = 0.48</tspan><tspan x="4283.75" dy="20.2">samples = 5</tspan><tspan x="4283.75" dy="20.2">value = [0.6, 0.4]</tspan></text></g>
<g id="n123" class="n"><rect x="4419" y="1391.5" width="205" height="91.5" fill="#fefaf8"/><text y="1413.55"><tspan x="4521.5">EPS T12M &lt;= 2.785</tspan><tspan x="4521.5" dy="20.2">gini = 0.266</tspan><tspan x="4521.5" dy="20.2">samples = 19</tspan><tspan x="4521.5" dy="20.2">value = [0.842, 0.158]</tspan></text></g>
<g id="n124" class="n"><rect x="4648.5" y="1391.5" width="358.5" height="91.5" fill="#fffffe"/><text y="1413.55"><tspan x="4827.75">Revenue per Employee &lt;= 501940.203</tspan><tspan x="4827.75" dy="20.2">gini = 0.498</tspan><tspan x="4827.75" dy="20.2">samples = 17</tspan><tspan x="4827.75" dy="20.2">value = [0.529, 0.471]</tspan></text></g>
<g id="n125" class="n"><rect x="20" y="1530.2" width="404.5" height="91.5" fill="#fdfeff"/><text y="1552.25"><tspan x="222.25">GICS Sector_Consumer Discretionary &lt;= 0.5</tspan><tspan x="222.25" dy="20.2">gini = 0.49</tspan><tspan x="222.25" dy="20.2">samples = 14</tspan><tspan x="222.25" dy="20.2">value = [0.429, 0.571]</tspan></text></g>
<g id="n126" class="n"><rect x="448.5" y="1540.85" width="137.5" height="70.2" fill="#f0f7fd"/><text y="1562.35"><tspan x="517.25">gini = 0.0</tspan><tspan x="517.25" dy="20.2">samples = 13</tspan><tspan x="517.25" dy="20.2">value = [0, 1]</tspan></text></g>
<g id="n127" class="n"><rect x="4150" y="1530.2" width="310.5" height="91.5" fill="#fefaf7"/><text y="1552.25"><tspan x="4305.25">Revenue T12M &lt;= 8163250176.0</tspan><tspan x="4305.25" dy="20.2">gini = 0.337</tspan><tspan x="4305.25" dy="20.2">samples = 14</tspan><tspan x="4305.25" dy="20.2">value = [0.786, 0.214]</tspan></text></g>
<g id="n128" class="n"><rect x="4484.5" y="1540.85" width="129.5" height="70.2" fill="#fae6d7"/><text y="1562.35"><tspan x="4549.25">gini = 0.0</tspan><tspan x="4549.25" dy="20.2">samples = 5</tspan><tspan x="4549.25" dy="20.2">value = [1, 0]</tspan></text></g>
<g id="n129" class="n"><rect x="4695.5" y="1530.2" width="205" height="91.5" fill="#fefcfa"/><text y="1552.25"><tspan x="4798">Sharpe:M-1 &lt;= 1.307</tspan><tspan x="4798" dy="20.2">gini = 0.463</tspan><tspan x="4798" dy="20.2">samples = 11</tspan><tspan x="4798" dy="20.2">value = [0.636, 0.364]</tspan></text></g>
<g id="n130" class="n"><rect x="4925" y="1540.85" width="206" height="70.2" fill="#f3f9fd"/><text y="1562.35"><tspan x="5028">gini = 0.444</tspan><tspan x="5028" dy="20.2">samples = 6</tspan><tspan x="5028" dy="20.2">value = [0.333, 0.667]</tspan></text></g>
<g id="n131" class="n"><rect x="5.5" y="1669" width="205" height="70.2" fill="#fbfdfe"/><text y="1690.5"><tspan x="108">gini = 0.49</tspan><tspan x="108" dy="20.2">samples = 7</tspan><tspan x="108" dy="20.2">value = [0.429, 0.571]</tspan></text></g>
<g id="n132" class="n"><rect x="234.5" y="1669" width="205.5" height="70.2" fill="#fbfdfe"/><text y="1690.5"><tspan x="337.25">gini = 0.49</tspan><tspan x="337.25" dy="20.2">samples = 7</tspan><tspan x="337.25" dy="20.2">value = [0.429, 0.571]</tspan></text></g>
<g id="n133" class="n"><rect x="4144" y="1669" width="205" height="70.2" fill="#fdf3ec"/><text y="1690.5"><tspan x="4246.5">gini = 0.219</tspan><tspan x="4246.5" dy="20.2">samples = 8</tspan><tspan x="4246.5" dy="20.2">value = [0.875, 0.125]</tspan></text></g>
<g id="n134" class="n"><rect x="4373.5" y="1669" width="205" height="70.2" fill="#fdf8f3"/><text y="1690.5"><tspan x="4476">gini = 0.444</tspan><tspan x="4476" dy="20.2">samples = 6</tspan><tspan x="4476" dy="20.2">value = [0.667, 0.333]</tspan></text></g>
<g id="n135" class="n"><rect x="4624.5" y="1669" width="161.5" height="70.2" fill="#fcefe6"/><text y="1690.5"><tspan x="4705.25">gini = 0.32</tspan><tspan x="4705.25" dy="20.2">samples = 5</tspan><tspan x="4705.25" dy="20.2">value = [0.8, 0.2]</tspan></text></g>
<g id="n136" class="n"><rect x="4809.5" y="1669" width="161.5" height="70.2" fill="#ffffff"/><text y="1690.5"><tspan x="4890.25">gini = 0.5</tspan><tspan x="4890.25" dy="20.2">samples = 6</tspan><tspan x="4890.25" dy="20.2">value = [0.5, 0.5]</tspan></text></g>
</svg>
